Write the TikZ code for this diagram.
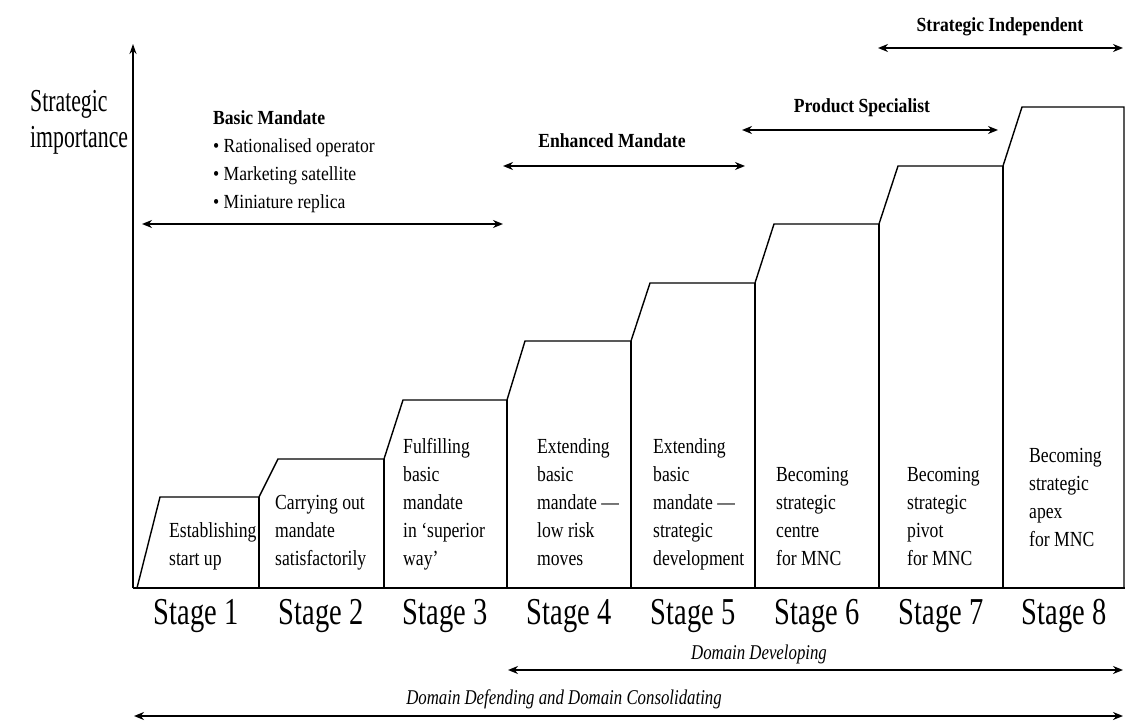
\documentclass[tikz,border=0pt]{standalone}
\usepackage{fontspec}
\setmainfont{Liberation Serif}
\newfontfamily\stagefont[FakeStretch=0.75]{Liberation Serif}
\newfontfamily\descfont[FakeStretch=0.82]{Liberation Serif}
\newfontfamily\axisfont[FakeStretch=0.68]{Liberation Serif}
\newfontfamily\labfont[FakeStretch=0.88]{Liberation Serif}
\newfontfamily\domfont[FakeStretch=0.80]{Liberation Serif}
\usetikzlibrary{arrows.meta}
\begin{document}
\begin{tikzpicture}[x=1pt,y=-1pt,
  stair/.style={line width=1.4pt,line join=miter},
  span/.style={line width=1.8pt,{Stealth[length=10pt,width=8pt]}-{Stealth[length=10pt,width=8pt]}},
  axis/.style={line width=1.4pt,-{Stealth[length=10pt,width=7pt]}},
  desc/.style={anchor=base west,inner sep=0pt,align=left,font=\descfont\fontsize{21.5}{28}\selectfont},
  stagelab/.style={anchor=base,inner sep=0pt,font=\stagefont\fontsize{38}{40}\selectfont},
  phase/.style={anchor=base,inner sep=0pt,font=\labfont\bfseries\fontsize{20}{28}\selectfont},
  bullets/.style={anchor=base west,inner sep=0pt,align=left,font=\labfont\fontsize{20}{28}\selectfont},
  domlab/.style={anchor=base,inner sep=0pt,font=\domfont\itshape\fontsize{21}{24}\selectfont},
  axislab/.style={anchor=base west,inner sep=0pt,align=left,font=\axisfont\fontsize{32}{36}\selectfont}]
\useasboundingbox[fill=white] (0,0) rectangle (1125,722);

% axis
\coordinate (O) at (133,588);
\coordinate (Ytop) at (133,44);
\coordinate (Xend) at (1125,588);
\draw[axis] (O) -- (Ytop);
\draw[stair] (O) -- (Xend);
\node[axislab] (ylab) at (30,148) {Strategic\\importance};

% stairs
\draw[stair] (137,588) -- (160,497) -- (259,497) -- (278,459) -- (384,459)
  -- (403,400) -- (507,400) -- (525,341) -- (631,341) -- (650,283) -- (755,283)
  -- (774,224) -- (879,224) -- (898,166) -- (1003,166) -- (1022,107) -- (1124,107)
  -- (1124,588);
\foreach \x/\y in {259/497,384/459,507/400,631/341,755/283,879/224,1003/166}
  \draw[stair] (\x,\y) -- (\x,588);

% stage descriptions (anchored at the baseline of their last line)
\node[desc] (d1) at (169,565) {Establishing\\start up};
\node[desc] (d2) at (275,565) {Carrying out\\mandate\\satisfactorily};
\node[desc] (d3) at (403,565) {Fulfilling\\basic\\mandate\\in ‘superior\\way’};
\node[desc] (d4) at (537,565) {Extending\\basic\\mandate —\\low risk\\moves};
\node[desc] (d5) at (653,565) {Extending\\basic\\mandate —\\strategic\\development};
\node[desc] (d6) at (776,565) {Becoming\\strategic\\centre\\for MNC};
\node[desc] (d7) at (907,565) {Becoming\\strategic\\pivot\\for MNC};
\node[desc] (d8) at (1029,546) {Becoming\\strategic\\apex\\for MNC};

% stage labels
\foreach \i/\x in {1/196,2/321,3/445,4/569,5/693,6/817,7/941,8/1064}
  \node[stagelab] (s\i) at (\x,624) {Stage \i};

% phase labels and spans
\node[bullets] (bm) at (213,209) {\textbf{Basic Mandate}\\• Rationalised operator\\• Marketing satellite\\• Miniature replica};
\coordinate (bmL) at (142,224); \coordinate (bmR) at (503,224);
\draw[span] (bmL) -- (bmR);

\node[phase] (em) at (612,148) {Enhanced Mandate};
\coordinate (emL) at (503,166); \coordinate (emR) at (745,166);
\draw[span] (emL) -- (emR);

\node[phase] (ps) at (862,113) {Product Specialist};
\coordinate (psL) at (742,130); \coordinate (psR) at (998,130);
\draw[span] (psL) -- (psR);

\node[phase] (si) at (1000,32) {Strategic Independent};
\coordinate (siL) at (878,48); \coordinate (siR) at (1123,48);
\draw[span] (siL) -- (siR);

% domain spans
\node[domlab] (dd) at (759,659) {Domain Developing};
\coordinate (ddL) at (508,670); \coordinate (ddR) at (1123,670);
\draw[span] (ddL) -- (ddR);

\node[domlab] (dc) at (564,704) {Domain Defending and Domain Consolidating};
\coordinate (dcL) at (134,716); \coordinate (dcR) at (1123,716);
\draw[span] (dcL) -- (dcR);
\end{tikzpicture}
\end{document}
